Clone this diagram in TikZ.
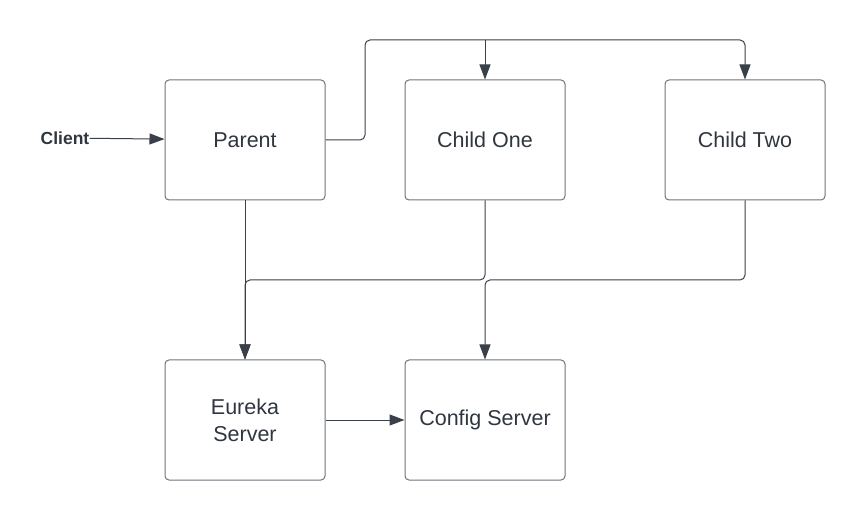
\documentclass[tikz,border=0pt]{standalone}
\usepackage{fontspec}
\setmainfont{Liberation Sans}
\usepackage{tikz}
\usetikzlibrary{arrows.meta}
\definecolor{linegray}{HTML}{3A4049}
\definecolor{boxgray}{HTML}{6E737B}
\definecolor{textgray}{HTML}{2F3640}

\begin{document}
\begin{tikzpicture}[x=1pt,y=-1pt]
					\tikzstyle{box}=[rectangle,rounded corners=4pt,draw=boxgray,line width=1pt,minimum width=160pt,minimum height=120pt,align=center,text=textgray,font=\fontsize{21.5}{27}\selectfont]
					\tikzstyle{flow}=[draw=linegray,line width=1pt,-{Triangle[length=15pt,width=11pt]}]
					\useasboundingbox (0,0) rectangle (865,521);
					\node[inner sep=0pt,text=textgray,font=\bfseries\fontsize{17.5}{20}\selectfont] (0) at (65,138) {Client};
					\node[box] (1) at (245,140) {Parent};
					\node[box] (2) at (485,140) {Child One};
					\node[box] (3) at (745,140) {Child Two};
					\node[box] (4) at (245,420) {Eureka\\Server};
					\node[box] (5) at (485,420) {Config Server};
					\coordinate (a) at (365,40);
					\coordinate (j) at (245,280);
					\coordinate (k) at (485,280);
					\draw[flow] (0) -- (1);
					\draw[flow,rounded corners=5pt] (1.east) -| (a) -| (3);
					\draw[flow,rounded corners=5pt] (a -| 2) -- (2);
					\draw[flow] (1) -- (4);
					\draw[flow,rounded corners=5pt] (2) |- (j) -- (4);
					\draw[flow,rounded corners=5pt] (3) |- (k) -- (5);
					\draw[flow] (4) -- (5);
					\end{tikzpicture}
\end{document}
